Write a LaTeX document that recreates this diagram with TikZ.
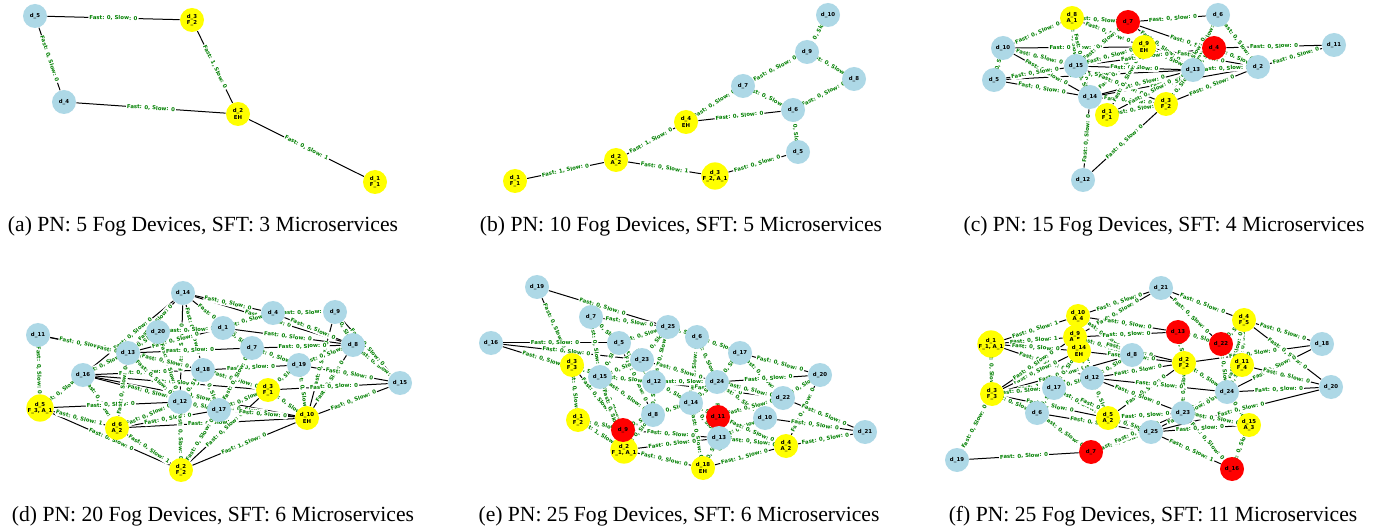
\documentclass[tikz,border=0pt]{standalone}
\usepackage{fontspec}
\setmainfont{Liberation Serif}
\newfontfamily\dv{DejaVu Sans}
\definecolor{nblue}{HTML}{ADD8E6}
\definecolor{nyel}{HTML}{FFFF00}
\definecolor{nred}{HTML}{FF0000}
\definecolor{lgreen}{HTML}{008000}
\pgfdeclarelayer{edgelayer}
\pgfdeclarelayer{labellayer}
\pgfsetlayers{edgelayer,labellayer,main}
\tikzset{
  devnode/.style={circle, draw=none, minimum size=12pt, inner sep=0pt, align=center,
    font=\dv\bfseries\fontsize{2.7}{3.1}\selectfont, text=black},
  bl/.style={devnode, fill=nblue},
  yl/.style={devnode, fill=nyel},
  rd/.style={devnode, fill=nred},
  edgeline/.style={draw=black, line width=0.5pt},
  elab/.style={sloped, midway, fill=white, inner sep=0.5pt, rounded corners=0.8pt,
    text=lgreen, font=\dv\bfseries\fontsize{2.7}{3.1}\selectfont},
  captxt/.style={font=\fontsize{10.8}{13}\selectfont}
}
\newcommand\Eline[3][]{\draw[edgeline] (#2) -- (#3);}
\newcommand\Elab[3][Fast: 0, Slow: 0]{\path (#2) -- node[elab]{#1} (#3);}
\newcommand\alledges{%
% (a)
\E{a5}{a3}\E{a5}{a4}\E[Fast: 1, Slow: 0]{a3}{a2}\E{a4}{a2}\E[Fast: 0, Slow: 1]{a2}{a1}%
% (b)
\E[Fast: 1, Slow: 0]{b1}{b2}\E[Fast: 0, Slow: 1]{b2}{b3}\E[Fast: 1, Slow: 0]{b2}{b4}%
\E{b3}{b5}\E{b4}{b7}\E{b4}{b6}\E{b7}{b9}\E{b7}{b6}\E{b9}{b8}\E{b6}{b8}\E{b6}{b5}\E{b9}{b10}%
% (c)
\E{c10}{c8}\E{c10}{c5}\E{c10}{c15}\E{c10}{c14}\E{c10}{c9}\E{c5}{c15}\E{c5}{c14}\E{c5}{c13}%
\E{c8}{c7}\E{c8}{c9}\E{c8}{c15}\E{c8}{c14}\E{c7}{c6}\E{c7}{c13}\E{c7}{c2}\E{c7}{c15}%
\E{c9}{c15}\E{c9}{c13}\E{c9}{c2}\E{c9}{c14}\E{c6}{c13}\E{c6}{c2}\E{c6}{c3}\E{c4}{c11}%
\E{c4}{c13}\E{c4}{c2}\E{c2}{c11}\E{c2}{c13}\E{c2}{c14}\E{c15}{c13}\E{c15}{c3}\E{c15}{c14}%
\E{c14}{c3}\E{c14}{c1}\E{c14}{c12}\E{c1}{c3}\E{c1}{c13}\E{c3}{c13}\E{c3}{c12}\E{c14}{c13}%
\E{c3}{c2}\E{c9}{c1}\E{c15}{c4}%
% (d)
\E{d14}{d4}\E{d4}{d9}\E{d14}{d13}\E{d14}{d16}\E{d14}{d18}\E{d14}{d12}\E{d14}{d7}\E{d14}{d8}%
\E{d11}{d13}\E{d11}{d18}\E{d11}{d5}%
\E{d16}{d5}\E{d16}{d6}\E{d16}{d13}\E{d16}{d18}\E{d16}{d17}\E{d16}{d10}\E{d16}{d3}%
\E[Fast: 0, Slow: 1]{d5}{d6}\E{d5}{d2}\E{d5}{d12}%
\E[Fast: 0, Slow: 1]{d6}{d2}\E[Fast: 0, Slow: 1]{d6}{d10}\E{d6}{d12}\E{d6}{d17}\E{d6}{d13}%
\E[Fast: 1, Slow: 0]{d2}{d10}\E{d2}{d12}\E{d2}{d17}\E{d2}{d3}%
\E{d10}{d15}\E{d10}{d3}\E{d10}{d19}\E{d10}{d8}\E{d10}{d9}\E{d10}{d12}\E{d10}{d17}%
\E{d15}{d8}\E{d15}{d9}\E{d15}{d19}\E{d15}{d3}%
\E{d8}{d9}\E{d8}{d4}\E{d8}{d7}\E{d8}{d1}\E{d8}{d19}%
\E{d19}{d7}\E{d19}{d3}\E{d19}{d18}%
\E{d1}{d20}\E{d1}{d4}\E{d1}{d13}\E{d1}{d7}%
\E{d20}{d13}\E{d20}{d12}%
\E{d13}{d18}\E{d13}{d7}\E{d13}{d12}%
\E{d18}{d17}\E{d18}{d3}\E{d18}{d12}%
\E{d12}{d17}\E{d17}{d3}\E{d17}{d7}%
% (e)
\E{e19}{e25}\E{e19}{e3}\E{e16}{e5}\E{e16}{e23}\E{e16}{e15}\E{e7}{e15}\E{e7}{e5}\E{e7}{e25}%
\E{e3}{e15}\E{e3}{e1}\E{e3}{e9}\E{e25}{e6}\E{e25}{e23}\E{e25}{e12}\E{e25}{e5}%
\E{e6}{e17}\E{e6}{e24}\E{e6}{e14}\E{e17}{e20}\E{e17}{e24}\E{e17}{e22}%
\E{e5}{e12}\E{e5}{e15}\E{e5}{e8}\E{e23}{e15}\E{e23}{e12}\E{e23}{e24}%
\E{e15}{e12}\E{e15}{e8}\E{e15}{e9}\E{e15}{e2}\E{e12}{e14}\E{e12}{e24}\E{e12}{e22}\E{e12}{e8}%
\E{e24}{e20}\E{e24}{e22}\E{e24}{e14}\E{e24}{e10}\E{e20}{e22}\E{e20}{e4}%
\E{e22}{e21}\E{e22}{e11}\E{e10}{e21}\E{e10}{e13}%
\E{e14}{e8}\E{e14}{e11}\E{e14}{e13}\E{e14}{e18}\E{e8}{e9}\E{e8}{e2}\E{e11}{e13}\E{e11}{e4}%
\E{e1}{e9}\E[Fast: 1, Slow: 0]{e1}{e2}\E{e9}{e13}\E{e2}{e18}\E{e2}{e13}%
\E{e13}{e18}\E{e13}{e4}\E{e4}{e21}\E[Fast: 1, Slow: 0]{e18}{e4}%
% (f)
\E{f21}{f10}\E{f21}{f4}\E{f21}{f22}\E{f21}{f9}%
\E[Fast: 0, Slow: 1]{f1}{f10}\E[Fast: 0, Slow: 1]{f1}{f9}\E{f1}{f14}\E{f1}{f3}\E{f1}{f12}%
\E{f3}{f14}\E{f3}{f9}\E{f3}{f8}\E[Fast: 1, Slow: 0]{f3}{f12}\E{f3}{f17}\E{f3}{f6}%
\E[Fast: 1, Slow: 0]{f3}{f5}\E{f3}{f19}%
\E{f10}{f13}\E{f10}{f8}\E{f10}{f12}\E{f9}{f8}\E{f9}{f13}\E{f9}{f2}%
\E{f14}{f2}\E{f14}{f12}\E{f14}{f17}%
\E{f4}{f18}\E{f4}{f20}\E{f4}{f11}\E{f4}{f22}\E{f4}{f24}%
\E{f13}{f2}\E{f13}{f22}\E{f22}{f11}\E{f22}{f24}\E{f18}{f24}\E{f18}{f2}%
\E{f2}{f12}\E{f2}{f24}\E{f2}{f23}\E{f2}{f5}\E{f11}{f24}\E{f11}{f20}%
\E{f12}{f8}\E{f12}{f23}\E{f12}{f17}\E{f12}{f5}\E{f12}{f24}%
\E{f17}{f6}\E[Fast: 0, Slow: 1]{f17}{f5}\E{f17}{f25}%
\E{f24}{f20}\E{f24}{f23}\E{f24}{f15}\E{f24}{f25}\E{f20}{f25}%
\E{f6}{f7}\E{f6}{f25}\E{f23}{f15}\E{f23}{f16}\E{f23}{f5}\E{f5}{f25}%
\E{f15}{f16}\E{f15}{f25}\E{f25}{f7}\E[Fast: 0, Slow: 1]{f25}{f16}\E{f19}{f7}\E{f7}{f23}%
}
\begin{document}
\begin{tikzpicture}[x=0.5pt, y=-0.5pt]
\useasboundingbox (0,0) rectangle (1387,529);
% ---------------- (a)
\node[bl] (a5) at (35,16) {d\_5};
\node[yl] (a3) at (192,20) {d\_3\\F\_2};
\node[bl] (a4) at (64,102) {d\_4};
\node[yl] (a2) at (238,114) {d\_2\\EH};
\node[yl] (a1) at (375,182) {d\_1\\F\_1};
\node[captxt] (capa) at (203,226) {(a) PN: 5 Fog Devices, SFT: 3 Microservices};
% ---------------- (b)
\node[bl] (b10) at (828,15) {d\_10};
\node[bl] (b9) at (807,52) {d\_9};
\node[bl] (b8) at (854,79) {d\_8};
\node[bl] (b7) at (743,86) {d\_7};
\node[bl] (b6) at (793,110) {d\_6};
\node[yl] (b4) at (686,122) {d\_4\\EH};
\node[bl] (b5) at (798,152) {d\_5};
\node[yl] (b2) at (616,160) {d\_2\\A\_2};
\node[yl] (b3) at (715,176) {d\_3\\F\_2, A\_1};
\node[yl] (b1) at (515,181) {d\_1\\F\_1};
\node[captxt] (capb) at (681,226) {(b) PN: 10 Fog Devices, SFT: 5 Microservices};
% ---------------- (c)
\node[yl] (c8) at (1072,18) {d\_8\\A\_1};
\node[rd] (c7) at (1128,22) {d\_7};
\node[bl] (c6) at (1218,15) {d\_6};
\node[yl] (c9) at (1144,47) {d\_9\\EH};
\node[rd] (c4) at (1214,48) {d\_4};
\node[bl] (c11) at (1334,45) {d\_11};
\node[bl] (c10) at (1003,48) {d\_10};
\node[bl] (c15) at (1076,66) {d\_15};
\node[bl] (c2) at (1258,67) {d\_2};
\node[bl] (c13) at (1193,70) {d\_13};
\node[bl] (c5) at (994,80) {d\_5};
\node[bl] (c14) at (1090,97) {d\_14};
\node[yl] (c3) at (1166,104) {d\_3\\F\_2};
\node[yl] (c1) at (1107,115) {d\_1\\F\_1};
\node[bl] (c12) at (1083,180) {d\_12};
\node[captxt] (capc) at (1164,226) {(c) PN: 15 Fog Devices, SFT: 4 Microservices};
% ---------------- (d)
\node[bl] (d14) at (183,293) {d\_14};
\node[bl] (d4) at (273,313) {d\_4};
\node[bl] (d9) at (335,312) {d\_9};
\node[bl] (d11) at (38,335) {d\_11};
\node[bl] (d20) at (158,332) {d\_20};
\node[bl] (d1) at (223,328) {d\_1};
\node[bl] (d8) at (353,345) {d\_8};
\node[bl] (d7) at (252,348) {d\_7};
\node[bl] (d13) at (128,353) {d\_13};
\node[bl] (d19) at (299,365) {d\_19};
\node[bl] (d18) at (203,370) {d\_18};
\node[bl] (d16) at (83,375) {d\_16};
\node[bl] (d15) at (400,383) {d\_15};
\node[yl] (d3) at (268,390) {d\_3\\F\_1};
\node[yl] (d5) at (40,408) {d\_5\\F\_3, A\_1};
\node[bl] (d12) at (180,402) {d\_12};
\node[bl] (d17) at (219,410) {d\_17};
\node[yl] (d10) at (307,418) {d\_10\\EH};
\node[yl] (d6) at (117,428) {d\_6\\A\_2};
\node[yl] (d2) at (181,470) {d\_2\\F\_2};
\node[captxt] (capd) at (213,516) {(d) PN: 20 Fog Devices, SFT: 6 Microservices};
% ---------------- (e)
\node[bl] (e19) at (537,287) {d\_19};
\node[bl] (e7) at (591,317) {d\_7};
\node[bl] (e25) at (668,327) {d\_25};
\node[bl] (e6) at (697,337) {d\_6};
\node[bl] (e16) at (491,343) {d\_16};
\node[bl] (e5) at (619,343) {d\_5};
\node[bl] (e17) at (740,353) {d\_17};
\node[bl] (e23) at (642,360) {d\_23};
\node[yl] (e3) at (572,365) {d\_3\\F\_3};
\node[bl] (e20) at (820,375) {d\_20};
\node[bl] (e15) at (600,377) {d\_15};
\node[bl] (e12) at (654,382) {d\_12};
\node[bl] (e24) at (717,382) {d\_24};
\node[bl] (e22) at (783,398) {d\_22};
\node[bl] (e14) at (691,403) {d\_14};
\node[bl] (e8) at (653,415) {d\_8};
\node[rd] (e11) at (718,417) {d\_11};
\node[bl] (e10) at (765,418) {d\_10};
\node[yl] (e1) at (578,420) {d\_1\\F\_2};
\node[bl] (e21) at (865,432) {d\_21};
\node[yl] (e2) at (624,450) {d\_2\\F\_1, A\_1};
\node[rd] (e9) at (623,430) {d\_9};
\node[bl] (e13) at (719,438) {d\_13};
\node[yl] (e4) at (786,446) {d\_4\\A\_2};
\node[yl] (e18) at (703,468) {d\_18\\EH};
\node[captxt] (cape) at (679,516) {(e) PN: 25 Fog Devices, SFT: 6 Microservices};
% ---------------- (f)
\node[bl] (f21) at (1161,288) {d\_21};
\node[yl] (f10) at (1078,316) {d\_10\\A\_4};
\node[yl] (f4) at (1244,320) {d\_4\\F\_5};
\node[rd] (f13) at (1178,332) {d\_13};
\node[yl] (f9) at (1075,337) {d\_9\\A\_5};
\node[yl] (f1) at (991,344) {d\_1\\F\_1, A\_1};
\node[rd] (f22) at (1221,344) {d\_22};
\node[bl] (f18) at (1322,344) {d\_18};
\node[yl] (f14) at (1079,351) {d\_14\\EH};
\node[bl] (f8) at (1132,355) {d\_8};
\node[yl] (f2) at (1184,363) {d\_2\\F\_2};
\node[yl] (f11) at (1242,365) {d\_11\\F\_4};
\node[bl] (f12) at (1092,378) {d\_12};
\node[bl] (f17) at (1054,388) {d\_17};
\node[bl] (f20) at (1331,387) {d\_20};
\node[bl] (f24) at (1227,392) {d\_24};
\node[yl] (f3) at (992,394) {d\_3\\F\_3};
\node[bl] (f6) at (1037,413) {d\_6};
\node[bl] (f23) at (1183,413) {d\_23};
\node[yl] (f5) at (1108,418) {d\_5\\A\_2};
\node[yl] (f15) at (1249,425) {d\_15\\A\_3};
\node[bl] (f25) at (1151,432) {d\_25};
\node[rd] (f7) at (1091,452) {d\_7};
\node[bl] (f19) at (957,460) {d\_19};
\node[rd] (f16) at (1232,469) {d\_16};
\node[captxt] (capf) at (1153,516) {(f) PN: 25 Fog Devices, SFT: 11 Microservices};
% ---------------- connectors and their labels
\begin{pgfonlayer}{edgelayer}
\fill[white] (0,0) rectangle (1387,529);
\let\E\Eline
\alledges
\end{pgfonlayer}
\begin{pgfonlayer}{labellayer}
\let\E\Elab
\alledges
\end{pgfonlayer}
\end{tikzpicture}
\end{document}
